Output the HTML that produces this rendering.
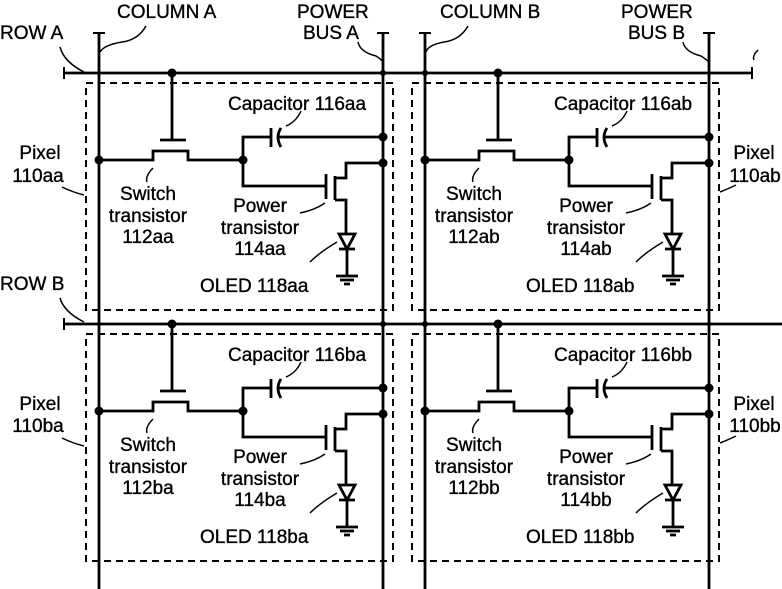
<!DOCTYPE html>
<html><head><meta charset="utf-8"><style>
html,body{margin:0;padding:0;background:#fff;width:782px;height:589px;overflow:hidden}
text{font-family:"Liberation Sans",Arial,sans-serif;font-size:19px;fill:#000;stroke:#000;stroke-width:0.35}
</style></head><body>
<svg width="782" height="589" viewBox="0 0 782 589" xmlns="http://www.w3.org/2000/svg">
<defs>
<g id="cell" fill="none" stroke="#000" stroke-width="2.8">
  <rect x="86" y="83" width="307" height="227" stroke-dasharray="7,5" stroke-width="2"/>
  <path d="M172 73 V140 M160 140 H186"/>
  <path d="M99 160 H153 V151 H188 V160 H243"/>
  <path d="M243 160 V137 H271 M271 128 V147"/>
  <path d="M281 128 Q275 137 281 147"/>
  <path d="M279 137 H383"/>
  <path d="M243 160 V186 H326 M326 174 V199"/>
  <path d="M335 176 V200 M335 178 H346 V163 H383 M335 200 H346 V233"/>
  <path d="M339 234 H355 L347 249 Z M339 249 H355 M347 249 V275"/>
  <path d="M336 276 H358 M340 280 H354 M344 284 H350"/>
  <path stroke-width="1.5" d="M301 111 Q296 122 286 126 M153 168 Q145 176 147 182 M325 203 Q315 210 300 213 M337 242 Q320 252 310 262"/>
</g>
</defs>

<text x="117" y="18">COLUMN A</text>
<text x="0" y="39">ROW A</text>
<text x="297" y="18">POWER</text>
<text x="303" y="39">BUS A</text>
<text x="440" y="18">COLUMN B</text>
<text x="621" y="18">POWER</text>
<text x="628" y="39">BUS B</text>
<text x="0" y="290">ROW B</text>

<g fill="none" stroke="#000" stroke-width="2.8">
  <path d="M99 33 V589 M383 33 V589 M425 33 V589 M709 33 V589"/>
  <path d="M93 33 H105 M377 33 H389 M419 33 H431 M703 33 H715" stroke-width="2"/>
  <path d="M64 73 H752 M64 324 H782"/>
  <path d="M64 67 V79 M752 67 V79 M64 318 V330" stroke-width="2"/>
  <path stroke-width="1.5" d="M146 26 Q138 40 122 42 Q104 45 100 52 M60 47 Q64 62 84 72 M358 42 Q360 52 376 56 Q382 60 383 62 M468 26 Q460 40 444 42 Q428 45 426 52 M683 42 Q685 52 701 56 Q707 60 709 62 M758 50 Q752 56 754 60 M60 298 Q64 312 84 322"/>
</g>

<use href="#cell"/>
<use href="#cell" transform="translate(326,0)"/>
<use href="#cell" transform="translate(0,251)"/>
<use href="#cell" transform="translate(326,251)"/>

<g fill="#000">
  <circle cx="172" cy="73" r="4.5"/><circle cx="99" cy="160" r="4.5"/><circle cx="243" cy="160" r="4.5"/><circle cx="383" cy="137" r="4.5"/><circle cx="383" cy="163" r="4.5"/><circle cx="383" cy="73" r="3"/>
  <circle cx="498" cy="73" r="4.5"/><circle cx="425" cy="160" r="4.5"/><circle cx="569" cy="160" r="4.5"/><circle cx="709" cy="137" r="4.5"/><circle cx="709" cy="163" r="4.5"/><circle cx="425" cy="73" r="3"/>
  <circle cx="172" cy="324" r="4.5"/><circle cx="99" cy="411" r="4.5"/><circle cx="243" cy="411" r="4.5"/><circle cx="383" cy="388" r="4.5"/><circle cx="383" cy="414" r="4.5"/><circle cx="383" cy="324" r="3"/>
  <circle cx="498" cy="324" r="4.5"/><circle cx="425" cy="411" r="4.5"/><circle cx="569" cy="411" r="4.5"/><circle cx="709" cy="388" r="4.5"/><circle cx="709" cy="414" r="4.5"/><circle cx="425" cy="324" r="3"/>
</g>

<g>
  <text x="228" y="110">Capacitor 116aa</text>
  <text x="148" y="200" text-anchor="middle">Switch</text>
  <text x="148" y="222" text-anchor="middle">transistor</text>
  <text x="148" y="243" text-anchor="middle">112aa</text>
  <text x="260" y="212" text-anchor="middle">Power</text>
  <text x="260" y="234" text-anchor="middle">transistor</text>
  <text x="260" y="255" text-anchor="middle">114aa</text>
  <text x="200" y="292">OLED 118aa</text>
  <text x="40" y="159" text-anchor="middle">Pixel</text>
  <text x="38" y="182" text-anchor="middle">110aa</text>

  <text x="554" y="110">Capacitor 116ab</text>
  <text x="474" y="200" text-anchor="middle">Switch</text>
  <text x="474" y="222" text-anchor="middle">transistor</text>
  <text x="474" y="243" text-anchor="middle">112ab</text>
  <text x="586" y="212" text-anchor="middle">Power</text>
  <text x="586" y="234" text-anchor="middle">transistor</text>
  <text x="586" y="255" text-anchor="middle">114ab</text>
  <text x="526" y="292">OLED 118ab</text>
  <text x="754" y="159" text-anchor="middle">Pixel</text>
  <text x="755" y="182" text-anchor="middle">110ab</text>

  <text x="228" y="361">Capacitor 116ba</text>
  <text x="148" y="451" text-anchor="middle">Switch</text>
  <text x="148" y="473" text-anchor="middle">transistor</text>
  <text x="148" y="494" text-anchor="middle">112ba</text>
  <text x="260" y="463" text-anchor="middle">Power</text>
  <text x="260" y="485" text-anchor="middle">transistor</text>
  <text x="260" y="506" text-anchor="middle">114ba</text>
  <text x="200" y="543">OLED 118ba</text>
  <text x="40" y="410" text-anchor="middle">Pixel</text>
  <text x="38" y="432" text-anchor="middle">110ba</text>

  <text x="554" y="361">Capacitor 116bb</text>
  <text x="474" y="451" text-anchor="middle">Switch</text>
  <text x="474" y="473" text-anchor="middle">transistor</text>
  <text x="474" y="494" text-anchor="middle">112bb</text>
  <text x="586" y="463" text-anchor="middle">Power</text>
  <text x="586" y="485" text-anchor="middle">transistor</text>
  <text x="586" y="506" text-anchor="middle">114bb</text>
  <text x="526" y="543">OLED 118bb</text>
  <text x="754" y="410" text-anchor="middle">Pixel</text>
  <text x="755" y="432" text-anchor="middle">110bb</text>
</g>
<g fill="none" stroke="#000" stroke-width="1.5">
  <path d="M62 187 Q72 192 84 195 M720 192 Q730 188 736 185 M62 438 Q72 443 84 446 M720 443 Q730 439 736 436"/>
</g>
</svg>
</body></html>
